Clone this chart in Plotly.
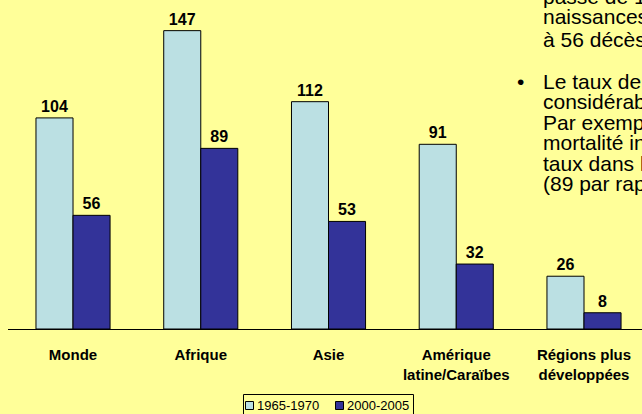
import plotly.graph_objects as go

# Infant mortality rate (deaths per 1,000 live births) by region
regions = ["Monde", "Afrique", "Asie", "Amérique<br>latine/Caraïbes", "Régions plus<br>développées"]
period_1 = "1965-1970"
period_2 = "2000-2005"
rates_1965 = [104, 147, 112, 91, 26]
rates_2000 = [56, 89, 53, 32, 8]

# Side text (bullet notes), one entry per rendered line
note_lines_1 = [
    "passé de 104 décès pour 1 000",
    "naissances vivantes en 1965-1970",
    "à 56 décès pour 1 000 en 2000-2005.",
]
note_lines_2 = [
    "Le taux de mortalité infantile varie",
    "considérablement selon les régions.",
    "Par exemple, en Afrique, le taux de",
    "mortalité infantile est 11 fois le",
    "taux dans les régions plus développées",
    "(89 par rapport à 8).",
]

W, H = 642, 414
ML, MR, MT, MB = 8, 0, 0, 85
PW, PH = W - ML - MR, H - MT - MB

BG = "#FFFF99"
LIGHT = "#BBE0E3"
DARK = "#333399"
FONT = "Liberation Sans, Arial, sans-serif"

xs = list(range(len(regions)))

fig = go.Figure()
for name, vals, col in [(period_1, rates_1965, LIGHT), (period_2, rates_2000, DARK)]:
    fig.add_trace(go.Bar(
        x=xs, y=vals, name=name,
        marker=dict(color=col, line=dict(color="#000000", width=1)),
        text=[str(v) for v in vals], textposition="outside",
        textfont=dict(family=FONT, size=16, color="#000000", weight="bold"),
        cliponaxis=False, showlegend=False,
    ))


def px_to_paper(px, py):
    return (px - ML) / PW, (H - MB - py) / PH


annotations = []
shapes = []
note_font = dict(family=FONT, size=21, color="#000000")
# first note: only its tail is in view
for text, py in zip(note_lines_1, [-4, 17, 39]):
    ax, ay = px_to_paper(541, py)
    annotations.append(dict(xref="paper", yref="paper", x=ax, y=ay, text=text,
                            showarrow=False, xanchor="left", yanchor="middle",
                            font=note_font))
# second note with its bullet
bx, by = px_to_paper(520, 81)
annotations.append(dict(xref="paper", yref="paper", x=bx, y=by, text="•",
                        showarrow=False, xanchor="center", yanchor="middle",
                        font=note_font))
for i, text in enumerate(note_lines_2):
    ax, ay = px_to_paper(541, 81 + 20.5 * i)
    annotations.append(dict(xref="paper", yref="paper", x=ax, y=ay, text=text,
                            showarrow=False, xanchor="left", yanchor="middle",
                            font=note_font))

# compact boxed legend below the axis
x0, y0 = px_to_paper(243.5, 394.5)
x1, y1 = px_to_paper(413.5, 418)
shapes.append(dict(type="rect", xref="paper", yref="paper", x0=x0, y0=y0, x1=x1, y1=y1,
                   line=dict(color="#000000", width=1), fillcolor=BG, layer="above"))
for sx, label, col in [(245.5, period_1, LIGHT), (335.5, period_2, DARK)]:
    a0, b0 = px_to_paper(sx, 401.5)
    a1, b1 = px_to_paper(sx + 8, 409.5)
    shapes.append(dict(type="rect", xref="paper", yref="paper", x0=a0, y0=b0, x1=a1, y1=b1,
                       line=dict(color="#000000", width=1), fillcolor=col, layer="above"))
    tx, ty = px_to_paper(sx + 9.5, 405.5)
    annotations.append(dict(xref="paper", yref="paper", x=tx, y=ty, text=label,
                            showarrow=False, xanchor="left", yanchor="middle",
                            font=dict(family=FONT, size=13, color="#000000")))

fig.update_layout(
    width=W, height=H,
    margin=dict(l=ML, r=MR, t=MT, b=MB, pad=0, autoexpand=False),
    paper_bgcolor=BG, plot_bgcolor=BG,
    barmode="group", bargap=0.42, bargroupgap=0,
    showlegend=False,
    xaxis=dict(
        range=[-0.509, 4.454], tickvals=xs, ticktext=regions,
        showline=True, linecolor="#000000", linewidth=1,
        showgrid=False, zeroline=False, ticks="",
        ticklabelstandoff=12,
        tickfont=dict(family=FONT, size=15, color="#000000", weight="bold"),
    ),
    yaxis=dict(range=[0, 162.1], visible=False, showgrid=False, zeroline=False),
    annotations=annotations,
    shapes=shapes,
)

fig.write_html("out.html")
